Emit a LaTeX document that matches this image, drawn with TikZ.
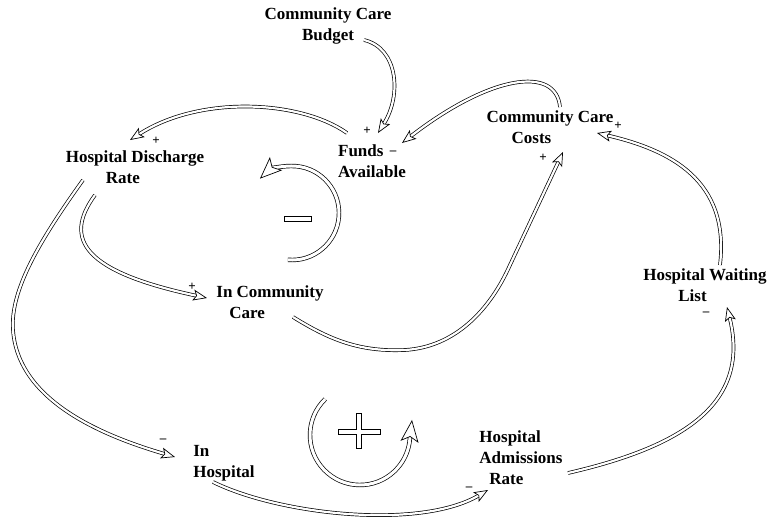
\documentclass[tikz,border=0pt]{standalone}
\usepackage{fontspec}
\setmainfont{Liberation Serif}
\usetikzlibrary{arrows.meta,calc}
\begin{document}
\begin{tikzpicture}[x=1pt,y=-1pt,
  var/.style={font=\fontsize{17}{21}\selectfont\bfseries, align=center, inner sep=0pt},
  pol/.style={font=\fontsize{13}{13}\selectfont\bfseries, inner sep=0pt},
  link/.style={double=white, double distance=2.2pt, line width=0.7pt,
    -{Stealth[length=14pt,width=11pt,inset=3pt,fill=white]}},
  looparrow/.style={double=white, double distance=3pt, line width=0.7pt,
    -{Stealth[length=22pt,width=18pt,inset=5pt,fill=white]}},
  sign/.style={line width=0.7pt, fill=white}]
\useasboundingbox (0,0) rectangle (772,528);

% variables
\node[var] (budget)    at (328,26)  {Community Care\\Budget};
\node[var, align=left] (funds) at (372,161) {Funds\\Available};
\node[var, align=left] (costs) at (550,127) {Community Care\\\hspace*{25pt}Costs};
\node[var, align=left] (discharge) at (135,167) {Hospital Discharge\\\hspace*{40pt}Rate};
\node[var, align=left] (incare) at (270,302) {In Community\\\hspace*{13pt}Care};
\node[var, align=left] (inhosp) at (224,463) {In\\Hospital};
\node[var, align=left] (admit) at (521,458) {Hospital\\Admissions\\\hspace*{10pt}Rate};
\node[var, align=left] (waiting) at (705,285) {Hospital Waiting\\\hspace*{35pt}List};

% polarities
\node[pol] (p1) at (367,131) {+};
\node[pol] (p2) at (393,153) {\textendash};
\node[pol] (p3) at (156,141) {+};
\node[pol] (p4) at (618,126) {+};
\node[pol] (p5) at (543,158) {+};
\node[pol] (p6) at (192,287) {+};
\node[pol] (p7) at (163,441) {\textendash};
\node[pol] (p8) at (469,489) {\textendash};
\node[pol] (p9) at (706,314) {\textendash};

% causal links
\draw[link] ([shift={(36,14)}]budget.center) .. controls (398,48) and (402,95) .. ([shift={(6,-28)}]funds.center);
\draw[link] ([shift={(-25,-28)}]funds.center) .. controls (300,100) and (200,95) .. ([shift={(-5,-27)}]discharge.center);
\draw[link] ([shift={(10,-20)}]costs.center) .. controls (556,65) and (490,75) .. ([shift={(30,-18)}]funds.center);
\draw[link] ([shift={(15,-20)}]waiting.center) .. controls (730,180) and (670,150) .. ([shift={(47,6)}]costs.center);
\draw[link] ([shift={(47,15)}]admit.center) .. controls (690,445) and (750,400) .. ([shift={(22,22)}]waiting.center);
\draw[link] ([shift={(-11,19)}]inhosp.center) .. controls (280,515) and (420,530) .. ([shift={(-33,32)}]admit.center);
\draw[link] ([shift={(-52,13)}]discharge.center) .. controls (40,240) and (10,290) .. (13,330)
  .. controls (18,400) and (100,435) .. ([shift={(-49,-6)}]inhosp.center);
\draw[link] ([shift={(-40,28)}]discharge.center) .. controls (62,240) and (85,272) .. ([shift={(-63,-4)}]incare.center);
\draw[link] ([shift={(23,15)}]incare.center) .. controls (330,340) and (360,352) .. (405,350)
  .. controls (455,347) and (490,310) .. (510,265) -- ([shift={(13,25)}]costs.center);

% loop markers
\coordinate (negloop) at (292,213);
\draw[looparrow] ([shift={(95:47)}]negloop) arc[start angle=95, end angle=-133, radius=47];
\draw[sign] (284,216.5) rectangle (311,221.5);
\coordinate (posloop) at (360,435);
\draw[looparrow] ([shift={(226:50)}]posloop) arc[start angle=226, end angle=8, radius=50] -- ++(2.5,-22);
\draw[sign] (356.5,413) -- (361.5,413) -- (361.5,429.5) -- (380,429.5) -- (380,434.5)
  -- (361.5,434.5) -- (361.5,448) -- (356.5,448) -- (356.5,434.5) -- (338,434.5)
  -- (338,429.5) -- (356.5,429.5) -- cycle;
\end{tikzpicture}
\end{document}
